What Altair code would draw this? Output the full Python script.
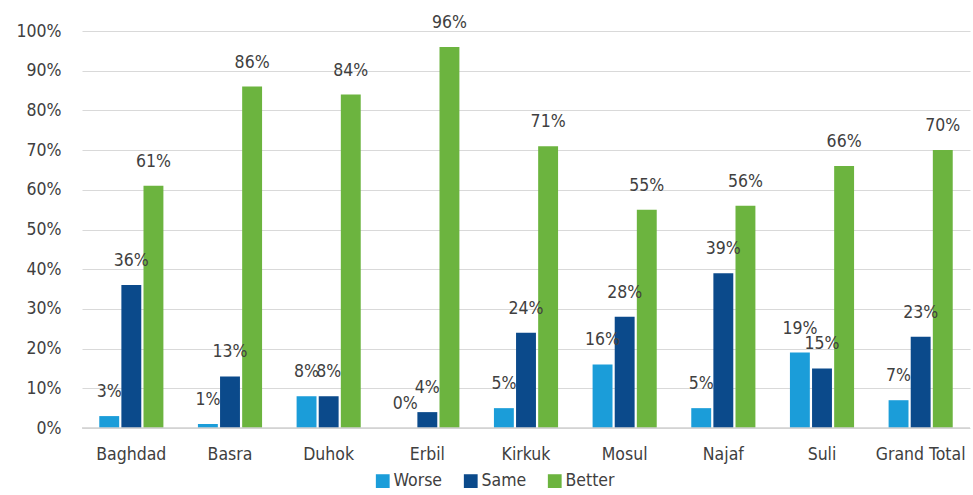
import altair as alt
import pandas as pd

categories = ["Baghdad", "Basra", "Duhok", "Erbil", "Kirkuk", "Mosul", "Najaf", "Suli", "Grand Total"]
series = ["Worse", "Same", "Better"]
worse = [3, 1, 8, 0, 5, 16, 5, 19, 7]
same = [36, 13, 8, 4, 24, 28, 39, 15, 23]
better = [61, 86, 84, 96, 71, 55, 56, 66, 70]
colors = ["#1b9dd9", "#0b4a8b", "#6cb43f"]
ticks = [i / 10 for i in range(11)]

rows = []
for i, c in enumerate(categories):
    for s, vals in zip(series, [worse, same, better]):
        rows.append({"cat": c, "series": s, "value": vals[i] / 100.0, "label": f"{vals[i]}%"})
df = pd.DataFrame(rows)

FONT = "'DejaVu Sans Condensed', 'Liberation Sans Narrow', Roboto, sans-serif"
FS = 17.5

x = alt.X("cat:N", sort=categories, title=None,
          scale=alt.Scale(paddingInner=0.35, paddingOuter=0.175),
          axis=alt.Axis(labelAngle=0, ticks=False, domain=False, labelFontSize=FS,
                        labelFont=FONT, labelColor="#404040", labelPadding=17))
xoff = alt.XOffset("series:N", sort=series, scale=alt.Scale(paddingInner=0.1))
yscale = alt.Scale(domain=[0, 1], nice=False)
y = alt.Y("value:Q", title=None, scale=yscale,
          axis=alt.Axis(format=".0%", values=ticks, ticks=False, domain=False, labelOverlap=False,
                        labelFontSize=FS, labelFont=FONT, labelColor="#404040", labelPadding=21,
                        gridColor="#d9d9d9", gridWidth=1.2))

bars = alt.Chart(df).mark_bar().encode(
    x=x, xOffset=xoff, y=y,
    color=alt.Color("series:N", sort=series,
                    scale=alt.Scale(domain=series, range=colors),
                    legend=alt.Legend(title=None, orient="none", legendX=292, legendY=441,
                                      direction="horizontal", symbolType="square", symbolSize=190,
                                      symbolStrokeWidth=0, labelFontSize=FS, labelFont=FONT,
                                      labelColor="#404040", columnPadding=19, labelOffset=2)),
)

text = alt.Chart(df).mark_text(dy=-24, fontSize=FS, font=FONT, color="#404040").encode(
    x=x, xOffset=xoff, y=y, text="label:N"
)

baseline = alt.Chart(pd.DataFrame({"value": [0]})).mark_rule(color="#d0d0d0", strokeWidth=1.5).encode(y=y)

chart = alt.layer(bars, text, baseline).properties(
    width=888, height=397,
    padding={"left": 82, "top": 31, "right": 3, "bottom": 67},
    autosize=alt.AutoSizeParams(type="none"),
).configure(background="white").configure_view(stroke=None)

chart.save("out.html", embed_options={"renderer": "svg", "actions": False})
